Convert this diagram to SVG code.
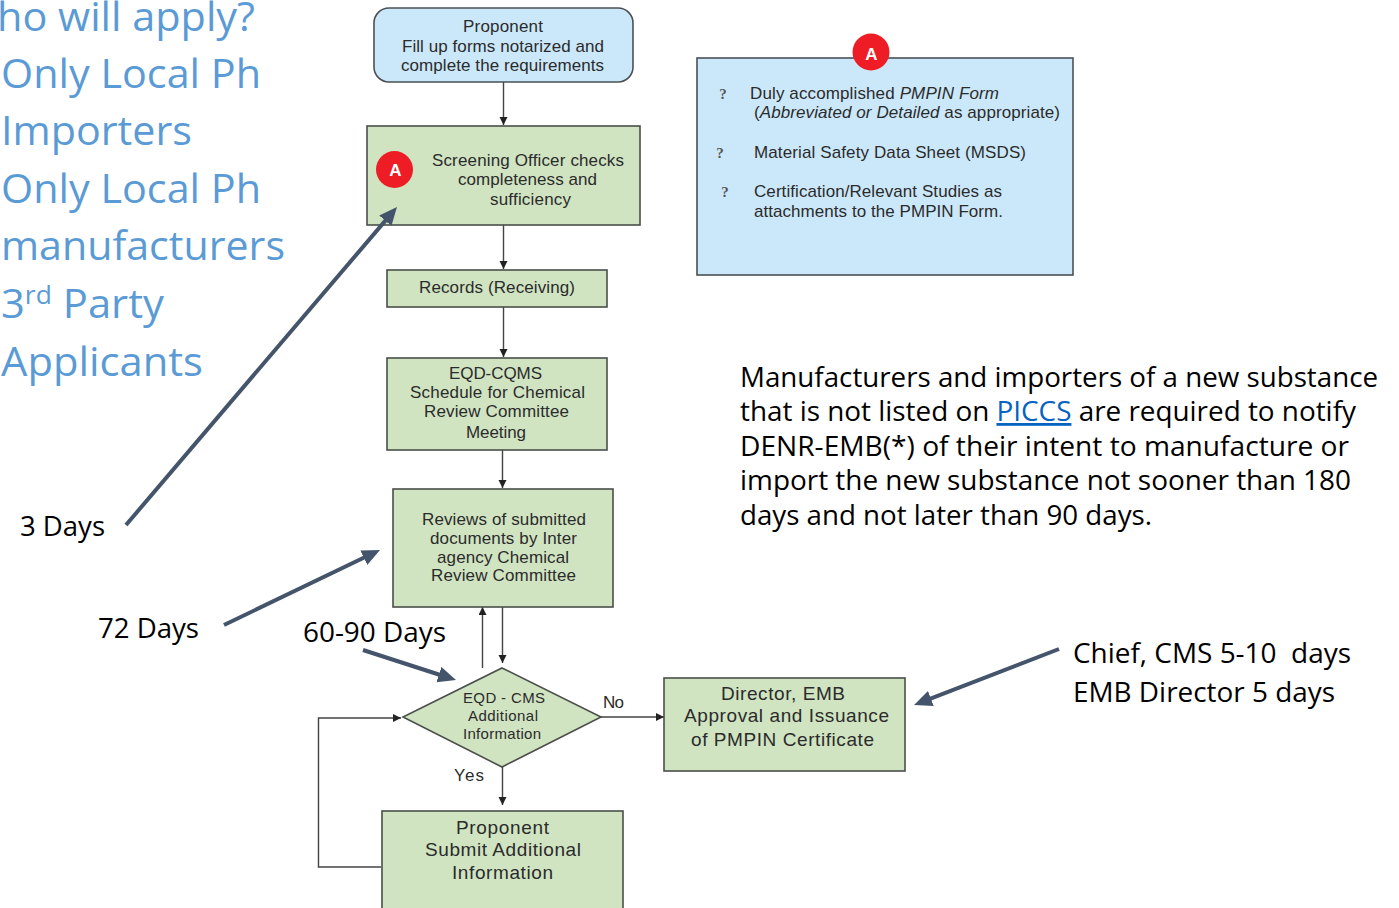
<svg xmlns="http://www.w3.org/2000/svg" width="1399" height="908" viewBox="0 0 1399 908">
<style>
text{font-family:"Liberation Sans",Arial,sans-serif;fill:#2b2b2b;font-size:17px;text-anchor:middle}
text.c{font-family:"Open Sans","Noto Sans",sans-serif;fill:#000;font-size:28px;text-anchor:start;white-space:pre}
text.b{font-family:"Open Sans","Noto Sans",sans-serif;fill:#5b9bd5;font-size:41px;text-anchor:start}
text.l{text-anchor:start}
text.m{font-size:19px}
text.s{font-size:15px}
.g{fill:#d0e4c2;stroke:#4a4f4a;stroke-width:1.6}
.u{fill:#cbe8fa;stroke:#4a5055;stroke-width:1.6}
text.w{fill:#fff;font-weight:bold;font-size:17px}
text.q{font-family:"Liberation Serif",serif;font-size:15px;font-weight:bold;fill:#555}
.f{fill:none;stroke:#444;stroke-width:1.4}
.t{fill:none;stroke:#44546a;stroke-width:4}
</style>
<defs>
<marker id="ah" markerUnits="userSpaceOnUse" markerWidth="9" markerHeight="9" refX="8" refY="4" orient="auto"><path d="M0 0L8 4L0 8Z" fill="#222"/></marker>
<marker id="bh" markerUnits="userSpaceOnUse" markerWidth="20" markerHeight="18" refX="8" refY="8" orient="auto"><path d="M0 0L18 8L0 16Z" fill="#44546a"/></marker>
</defs>
<g id="applies">
<text class="b" x="-3" y="31" textLength="258" lengthAdjust="spacingAndGlyphs">ho will apply?</text>
<text class="b" x="1" y="88" textLength="260" lengthAdjust="spacingAndGlyphs">Only Local Ph</text>
<text class="b" x="1" y="145" textLength="191" lengthAdjust="spacingAndGlyphs">Importers</text>
<text class="b" x="1" y="203" textLength="260" lengthAdjust="spacingAndGlyphs">Only Local Ph</text>
<text class="b" x="1" y="260" textLength="284" lengthAdjust="spacingAndGlyphs">manufacturers</text>
<text class="b" x="1" y="318" textLength="163" lengthAdjust="spacingAndGlyphs">3<tspan font-size="26" dy="-14">rd</tspan><tspan dy="14"> Party</tspan></text>
<text class="b" x="1" y="376" textLength="202" lengthAdjust="spacingAndGlyphs">Applicants</text>
</g>
<g id="connectors">
<path class="f" d="M503.500 82V125" marker-end="url(#ah)"/>
<path class="f" d="M503.500 225V269" marker-end="url(#ah)"/>
<path class="f" d="M503.500 307V357" marker-end="url(#ah)"/>
<path class="f" d="M502.500 450V488" marker-end="url(#ah)"/>
<path class="f" d="M482.500 668V607" marker-end="url(#ah)"/>
<path class="f" d="M502.500 607V663" marker-end="url(#ah)"/>
<path class="f" d="M600 717H664" marker-end="url(#ah)"/>
<path class="f" d="M502.500 767V805" marker-end="url(#ah)"/>
<path class="f" d="M381 867H318.500V718H401" marker-end="url(#ah)"/>
</g>
<g id="proponent"><rect class="u" x="374" y="8" width="259" height="74" rx="15"/>
<text x="503" y="32" textLength="80">Proponent</text><text x="503" y="52" textLength="202">Fill up forms notarized and</text><text x="502.500" y="71" textLength="203">complete the requirements</text></g>
<g id="screening"><rect class="g" x="367" y="126" width="273" height="99"/>
<circle cx="394.500" cy="169.500" r="18.500" fill="#ee1c25"/><text class="w" x="395.500" y="176">A</text>
<text x="528" y="166" textLength="192">Screening Officer checks</text><text x="527.500" y="185" textLength="139">completeness and</text><text x="530.500" y="205" textLength="81">sufficiency</text></g>
<g id="records"><rect class="g" x="387" y="270" width="220" height="37"/><text x="497" y="293" textLength="156">Records (Receiving)</text></g>
<g id="schedule"><rect class="g" x="387" y="358" width="220" height="92"/>
<text x="495.500" y="379" textLength="93">EQD-CQMS</text><text x="497.500" y="398" textLength="175">Schedule for Chemical</text><text x="496.500" y="417" textLength="145">Review Committee</text><text x="496" y="438" textLength="60">Meeting</text></g>
<g id="reviews"><rect class="g" x="393" y="489" width="220" height="118"/>
<text x="504" y="525" textLength="164">Reviews of submitted</text><text x="503.500" y="544" textLength="147">documents by Inter</text><text x="503" y="563" textLength="132">agency Chemical</text><text x="503.500" y="581" textLength="145">Review Committee</text></g>
<g id="decision"><path class="g" d="M502 668L601 717L502 767L403 717Z"/>
<text class="s" x="504" y="703" textLength="82">EQD - CMS</text><text class="s" x="503" y="721" textLength="70">Additional</text><text class="s" x="502" y="739" textLength="78">Information</text></g>
<g id="labels"><text x="613.500" y="708" textLength="21">No</text><text x="469" y="781" textLength="30">Yes</text></g>
<g id="director"><rect class="g" x="664" y="678" width="241" height="93"/>
<text class="m" x="783" y="700" textLength="124">Director, EMB</text><text class="m" x="786.500" y="722" textLength="205">Approval and Issuance</text><text class="m" x="782.500" y="746" textLength="183">of PMPIN Certificate</text></g>
<g id="submit"><rect class="g" x="382" y="811" width="241" height="110"/>
<text class="m" x="502.500" y="834" textLength="93">Proponent</text><text class="m" x="503" y="856" textLength="156">Submit Additional</text><text class="m" x="502.500" y="879" textLength="101">Information</text></g>
<g id="requirements"><rect class="u" x="697" y="58" width="376" height="217"/>
<circle cx="871" cy="52" r="18.500" fill="#ee1c25"/><text class="w" x="871.500" y="60">A</text>
<text class="q" x="723" y="99">?</text><text class="l" x="750" y="99" textLength="249">Duly accomplished <tspan font-style="italic">PMPIN Form</tspan></text>
<text class="l" x="754" y="118" textLength="306">(<tspan font-style="italic">Abbreviated or Detailed</tspan> as appropriate)</text>
<text class="q" x="720" y="158">?</text><text class="l" x="754" y="158" textLength="272">Material Safety Data Sheet (MSDS)</text>
<text class="q" x="725" y="197">?</text><text class="l" x="754" y="197" textLength="248">Certification/Relevant Studies as</text>
<text class="l" x="754" y="217" textLength="249">attachments to the PMPIN Form.</text></g>
<g id="note">
<text class="c" x="740" y="387" textLength="638" lengthAdjust="spacingAndGlyphs">Manufacturers and importers of a new substance</text>
<text class="c" x="740" y="421" textLength="616" lengthAdjust="spacingAndGlyphs">that is not listed on <tspan fill="#0563c1" text-decoration="underline">PICCS</tspan> are required to notify</text>
<text class="c" x="740" y="456" textLength="609" lengthAdjust="spacingAndGlyphs">DENR-EMB(*) of their intent to manufacture or</text>
<text class="c" x="740" y="490" textLength="611" lengthAdjust="spacingAndGlyphs">import the new substance not sooner than 180</text>
<text class="c" x="740" y="525" textLength="412" lengthAdjust="spacingAndGlyphs">days and not later than 90 days.</text>
</g>
<g id="callouts">
<text class="c" x="20" y="536" textLength="85" lengthAdjust="spacingAndGlyphs">3 Days</text>
<text class="c" x="98" y="638" textLength="101" lengthAdjust="spacingAndGlyphs">72 Days</text>
<text class="c" x="303" y="642" textLength="143" lengthAdjust="spacingAndGlyphs">60-90 Days</text>
<text class="c" x="1073" y="663" textLength="278" lengthAdjust="spacingAndGlyphs">Chief, CMS 5-10  days</text>
<text class="c" x="1073" y="702" textLength="262" lengthAdjust="spacingAndGlyphs">EMB Director 5 days</text>
<path class="t" d="M126 525L390.500 214.600" marker-end="url(#bh)"/>
<path class="t" d="M224 625L371 554.300" marker-end="url(#bh)"/>
<path class="t" d="M363 650L446.500 677" marker-end="url(#bh)"/>
<path class="t" d="M1059 649L923.400 701.400" marker-end="url(#bh)"/>
</g>
</svg>
